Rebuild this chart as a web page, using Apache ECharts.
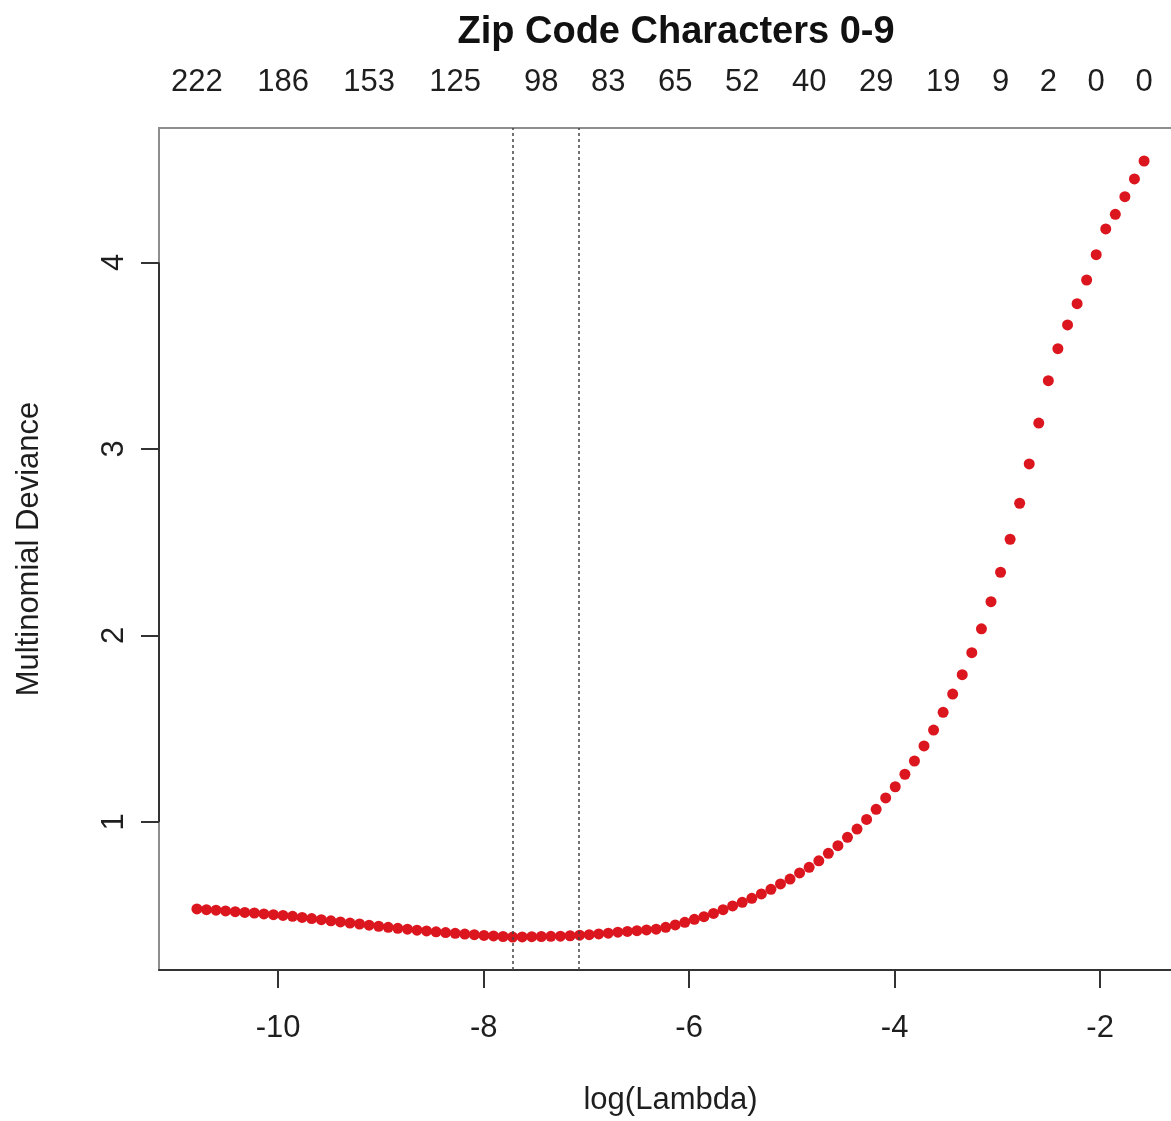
<!DOCTYPE html>
<html>
<head>
<meta charset="utf-8">
<script src="https://cdn.jsdelivr.net/npm/echarts@6/dist/echarts.min.js"></script>
<style>
  html, body { margin: 0; padding: 0; background: #ffffff; overflow: hidden; }
  #chart { width: 1200px; height: 1121px; }
</style>
</head>
<body>
<div id="chart"></div>
<script>
// Cross-validated multinomial deviance along the lambda path (100 lambdas)
const logLambda = [
  -10.791, -10.698, -10.605, -10.512, -10.418, -10.325, -10.232, -10.139, -10.046, -9.953,
  -9.860, -9.767, -9.674, -9.580, -9.487, -9.394, -9.301, -9.208, -9.115, -9.022,
  -8.929, -8.836, -8.742, -8.649, -8.556, -8.463, -8.370, -8.277, -8.184, -8.091,
  -7.997, -7.904, -7.811, -7.718, -7.625, -7.532, -7.439, -7.346, -7.253, -7.159,
  -7.066, -6.973, -6.880, -6.787, -6.694, -6.601, -6.508, -6.415, -6.321, -6.228,
  -6.135, -6.042, -5.949, -5.856, -5.763, -5.670, -5.577, -5.483, -5.390, -5.297,
  -5.204, -5.111, -5.018, -4.925, -4.832, -4.738, -4.645, -4.552, -4.459, -4.366,
  -4.273, -4.180, -4.087, -3.994, -3.900, -3.807, -3.714, -3.621, -3.528, -3.435,
  -3.342, -3.249, -3.155, -3.062, -2.969, -2.876, -2.783, -2.690, -2.597, -2.504,
  -2.411, -2.317, -2.224, -2.131, -2.038, -1.945, -1.852, -1.759, -1.666, -1.572
];

const deviance = [
  0.534, 0.530, 0.527, 0.523, 0.519, 0.515, 0.512, 0.507, 0.503, 0.499,
  0.494, 0.488, 0.482, 0.476, 0.470, 0.464, 0.458, 0.453, 0.447, 0.441,
  0.435, 0.430, 0.425, 0.420, 0.416, 0.411, 0.407, 0.403, 0.399, 0.396,
  0.392, 0.389, 0.386, 0.383, 0.384, 0.385, 0.386, 0.387, 0.388, 0.390,
  0.393, 0.396, 0.400, 0.404, 0.409, 0.413, 0.417, 0.421, 0.425, 0.435,
  0.448, 0.462, 0.478, 0.492, 0.510, 0.530, 0.550, 0.569, 0.591, 0.614,
  0.639, 0.668, 0.694, 0.727, 0.757, 0.792, 0.832, 0.873, 0.918, 0.962,
  1.014, 1.068, 1.129, 1.189, 1.256, 1.327, 1.408, 1.493, 1.588, 1.686,
  1.790, 1.908, 2.036, 2.181, 2.339, 2.516, 2.709, 2.920, 3.139, 3.366,
  3.538, 3.665, 3.779, 3.906, 4.042, 4.180, 4.258, 4.353, 4.448, 4.544
];

// Number of non-zero coefficients shown along the top axis
const topLabelIndex = [0, 9, 18, 27, 36, 43, 50, 57, 64, 71, 78, 84, 89, 94, 99];
const topLabelCount = ['222', '186', '153', '125', '98', '83', '65', '52', '40', '29', '19', '9', '2', '0', '0'];

// lambda.min and lambda.1se positions on the path
const lambdaMinIndex = 33;
const lambda1seIndex = 40;

const xTicks = [-10, -8, -6, -4, -2];
const yTicks = [1, 2, 3, 4];
const xRange = [-11.160, -1.203];
const yRange = [0.2064, 4.721];

const FONT = '"Liberation Sans", Arial, Helvetica, sans-serif';
const TEXT = '#1e1e1e';

const points = logLambda.map((x, i) => [x, deviance[i]]);
const topValues = topLabelIndex.map(i => logLambda[i]);

const chart = echarts.init(document.getElementById('chart'), null, { renderer: 'canvas' });

chart.setOption({
  backgroundColor: '#ffffff',
  animation: false,
  title: {
    text: 'Zip Code Characters 0-9',
    left: 671,
    top: 9,
    textAlign: 'center',
    textStyle: { fontFamily: FONT, fontSize: 38, fontWeight: 'bold', color: '#111' }
  },
  grid: {
    left: 159, top: 128, width: 1023, height: 842,
    show: true, borderColor: '#8e8e8e', borderWidth: 2, backgroundColor: 'transparent'
  },
  xAxis: [
    {
      type: 'value',
      position: 'bottom',
      min: xRange[0], max: xRange[1],
      name: 'log(Lambda)',
      nameLocation: 'middle',
      nameGap: 115,
      nameTextStyle: { fontFamily: FONT, fontSize: 31, color: TEXT },
      splitLine: { show: false },
      axisLine: { show: true, lineStyle: { color: '#333', width: 2 } },
      axisTick: { show: true, length: 18, customValues: xTicks, lineStyle: { color: '#333', width: 2 } },
      axisLabel: {
        customValues: xTicks,
        margin: 43,
        fontFamily: FONT, fontSize: 31, color: TEXT,
        formatter: v => String(v)
      }
    },
    {
      type: 'value',
      position: 'top',
      min: xRange[0], max: xRange[1],
      splitLine: { show: false },
      axisLine: { show: false },
      axisTick: { show: false },
      axisLabel: {
        customValues: topValues,
        margin: 30,
        fontFamily: FONT, fontSize: 31, color: TEXT,
        formatter: v => {
          const k = topValues.findIndex(t => Math.abs(t - v) < 1e-6);
          return k >= 0 ? topLabelCount[k] : '';
        }
      }
    }
  ],
  yAxis: {
    type: 'value',
    min: yRange[0], max: yRange[1],
    name: 'Multinomial Deviance',
    nameLocation: 'middle',
    nameGap: 114,
    nameRotate: 90,
    nameTextStyle: { fontFamily: FONT, fontSize: 31, color: TEXT },
    splitLine: { show: false },
    axisLine: { show: false },
    axisTick: { show: true, length: 18, customValues: yTicks, lineStyle: { color: '#333', width: 2 } },
    axisLabel: {
      customValues: yTicks,
      rotate: 90,
      margin: 29,
      fontFamily: FONT, fontSize: 31, color: TEXT,
      formatter: v => String(v)
    }
  },
  series: [
    {
      // left axis line spanning the tick range
      type: 'line',
      data: [],
      silent: true,
      markLine: {
        silent: true,
        symbol: ['none', 'none'],
        label: { show: false },
        lineStyle: { color: '#333', width: 2, type: 'solid' },
        data: [[
          { coord: [xRange[0], yTicks[0]] },
          { coord: [xRange[0], yTicks[yTicks.length - 1]] }
        ]]
      }
    },
    {
      type: 'scatter',
      xAxisIndex: 0,
      data: points,
      symbol: 'circle',
      symbolSize: 11,
      itemStyle: { color: '#dc161e', opacity: 1 },
      z: 3,
      markLine: {
        silent: true,
        symbol: ['none', 'none'],
        label: { show: false },
        lineStyle: { color: '#444', width: 1.5, type: [3, 3] },
        data: [
          { xAxis: logLambda[lambdaMinIndex] },
          { xAxis: logLambda[lambda1seIndex] }
        ]
      }
    }
  ]
});
</script>
</body>
</html>
